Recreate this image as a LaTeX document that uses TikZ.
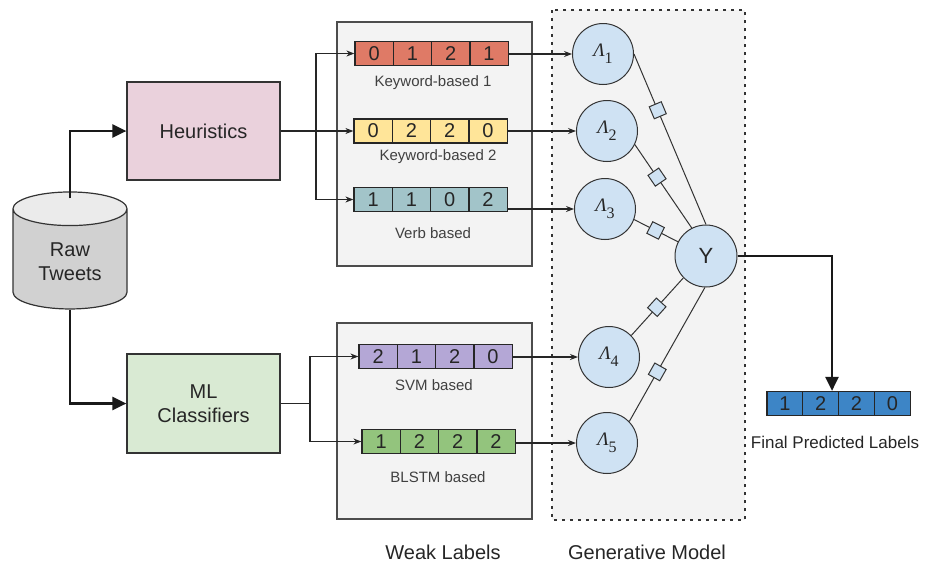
\documentclass[tikz,border=0pt]{standalone}
\usepackage{fontspec}
\setmainfont{Liberation Sans}
\newfontfamily\lamfont{Liberation Serif}
\usepackage{xcolor}
\usepackage{tikz}
\usetikzlibrary{shapes.geometric, arrows.meta, positioning}

\definecolor{heurpink}{HTML}{EAD1DC}
\definecolor{mlgreen}{HTML}{D9EAD3}
\definecolor{panelgray}{HTML}{F3F3F3}
\definecolor{kwred}{HTML}{DF7A66}
\definecolor{kwyellow}{HTML}{FFE599}
\definecolor{verbcyan}{HTML}{A2C4C9}
\definecolor{svmpurple}{HTML}{B4A7D6}
\definecolor{lstmgreen}{HTML}{93C47D}
\definecolor{finalblue}{HTML}{3D85C6}
\definecolor{lamblue}{HTML}{CFE2F3}

% one row of label cells: name, left x, mid y, fill, values
\newcommand{\cellw}{38.3}
\newcommand{\cellrow}[5]{%
  \foreach \v [count=\k] in {#5}
    \node[cell, fill=#4] (#1-\k) at ({#2+\cellw*\k-\cellw/2},#3) {\v};
}
\newcommand{\lam}[1]{{\lamfont\itshape Λ}\raisebox{-0.7ex}{\lamfont\fontsize{16}{16}\selectfont #1}}

\begin{document}
\begin{tikzpicture}[
    x=1pt, y=-1pt,
    every node/.style={text=black!85},
    stage/.style={rectangle, draw=black!80, line width=1.2pt, minimum width=153pt, minimum height=98pt, align=center, font=\fontsize{20}{24}\selectfont},
    panel/.style={rectangle, draw=black!70, line width=1.2pt, fill=panelgray, inner sep=0pt},
    cell/.style={rectangle, draw=black!85, line width=1.2pt, minimum width=\cellw pt, minimum height=24pt, inner sep=0pt, font=\fontsize{20}{20}\selectfont},
    caption/.style={font=\fontsize{15}{17}\selectfont, text=black!75},
    title/.style={font=\fontsize{20}{22}\selectfont},
    factor/.style={circle, draw=black!80, line width=1pt, fill=lamblue, minimum size=61pt, inner sep=0pt, font=\fontsize{19}{19}\selectfont},
    link/.style={draw=black!80, line width=1pt},
    knob/.style={rectangle, draw=black!80, line width=1pt, fill=lamblue, minimum size=13pt, inner sep=0pt, sloped},
    feed/.style={-{Stealth[length=8pt,width=6pt]}, line width=1.1pt, draw=black!85},
    flow/.style={-{Triangle[length=14pt,width=13pt]}, line width=2.4pt, draw=black!90}
]
    \useasboundingbox (0,0) rectangle (925,568);

    % source and the two labelling stages
    \node [cylinder, shape border rotate=90, aspect=0.48, draw=black!80, line width=1.2pt,
           cylinder uses custom fill, cylinder body fill=black!18, cylinder end fill=black!8,
           minimum width=114pt, minimum height=117pt, align=center,
           font=\fontsize{20}{24}\selectfont] (tweets) at (70,262) {Raw\\Tweets};
    \node [stage, fill=heurpink] (heur) at (203.5,131) {Heuristics};
    \node [stage, fill=mlgreen, minimum height=99pt] (ml) at (203.5,403.5) {ML\\Classifiers};

    % weak label panels
    \node [panel, minimum width=195pt, minimum height=244pt] (weaktop) at (434.5,144) {};
    \node [panel, minimum width=195pt, minimum height=196pt] (weakbot) at (434.5,421) {};

    \cellrow{kwa}{355}{53.5}{kwred}{0,1,2,1}
    \cellrow{kwb}{354}{131}{kwyellow}{0,2,2,0}
    \cellrow{verb}{354}{199.5}{verbcyan}{1,1,0,2}
    \cellrow{svm}{359}{356.5}{svmpurple}{2,1,2,0}
    \cellrow{lstm}{362}{441.5}{lstmgreen}{1,2,2,2}

    \node [caption] (kwacap) at (433,83) {Keyword-based 1};
    \node [caption] (kwbcap) at (438,157) {Keyword-based 2};
    \node [caption] (verbcap) at (433,233) {Verb based};
    \node [caption] (svmcap) at (434,385) {SVM based};
    \node [caption] (lstmcap) at (438,477) {BLSTM based};

    % generative model
    \fill [panelgray] (552,10) rectangle (745,520);
    \draw [black!80, line width=2.6pt, dash pattern=on 2.6pt off 5.4pt] (552,10) rectangle (745,520);

    \node [factor] (l1) at (603,54) {\lam{1}};
    \node [factor] (l2) at (607,131) {\lam{2}};
    \node [factor] (l3) at (605,209) {\lam{3}};
    \node [factor] (l4) at (609,357) {\lam{4}};
    \node [factor] (l5) at (607,443) {\lam{5}};
    \node [factor, minimum size=62pt, font=\fontsize{22}{22}\selectfont] (y) at (706,256) {Y};

    \draw [link] (l1.0) -- node[knob, pos=0.33] {} (y.90);
    \draw [link] (l2.-26) -- node[knob, pos=0.39] {} (y.117);
    \draw [link] (l3.-20) -- node[knob, pos=0.49] {} (y.153);
    \draw [link] (l4.44) -- node[knob, pos=0.49] {} (y.224);
    \draw [link] (l5.44) -- node[knob, pos=0.37] {} (y.268);

    % output
    \renewcommand{\cellw}{35.8}
    \cellrow{final}{767}{403.5}{finalblue}{1,2,2,0}
    \node [font=\fontsize{17}{19}\selectfont] (finalcap) at (835,442) {Final Predicted Labels};

    \node [title] (weakcap) at (443,552) {Weak Labels};
    \node [title] (gencap) at (647,552) {Generative Model};

    % connectors
    \draw [flow] ([yshift=-7pt]tweets.north) |- (heur.west);
    \draw [flow] (tweets.south) |- (ml.west);

    \coordinate (hsplit) at (316,131);
    \coordinate (msplit) at (310,403.5);
    \draw [line width=1.1pt, black!85] (heur.east) -- (hsplit);
    \draw [feed] (hsplit) |- (kwa-1.west);
    \draw [feed] (hsplit) -- (kwb-1.west);
    \draw [feed] (hsplit) |- (verb-1.west);
    \draw [line width=1.1pt, black!85] (ml.east) -- (msplit);
    \draw [feed] (msplit) |- (svm-1.west);
    \draw [feed] (msplit) |- (lstm-1.west);

    \draw [feed] (l1 -| kwa-4.east) -- (l1);
    \draw [feed] (l2 -| kwb-4.east) -- (l2);
    \draw [feed] (l3 -| verb-4.east) -- (l3);
    \draw [feed] (l4 -| svm-4.east) -- (l4);
    \draw [feed] (l5 -| lstm-4.east) -- (l5);

    \draw [flow] (y.east) -| ([xshift=-6pt]final-3.north west);
\end{tikzpicture}
\end{document}
